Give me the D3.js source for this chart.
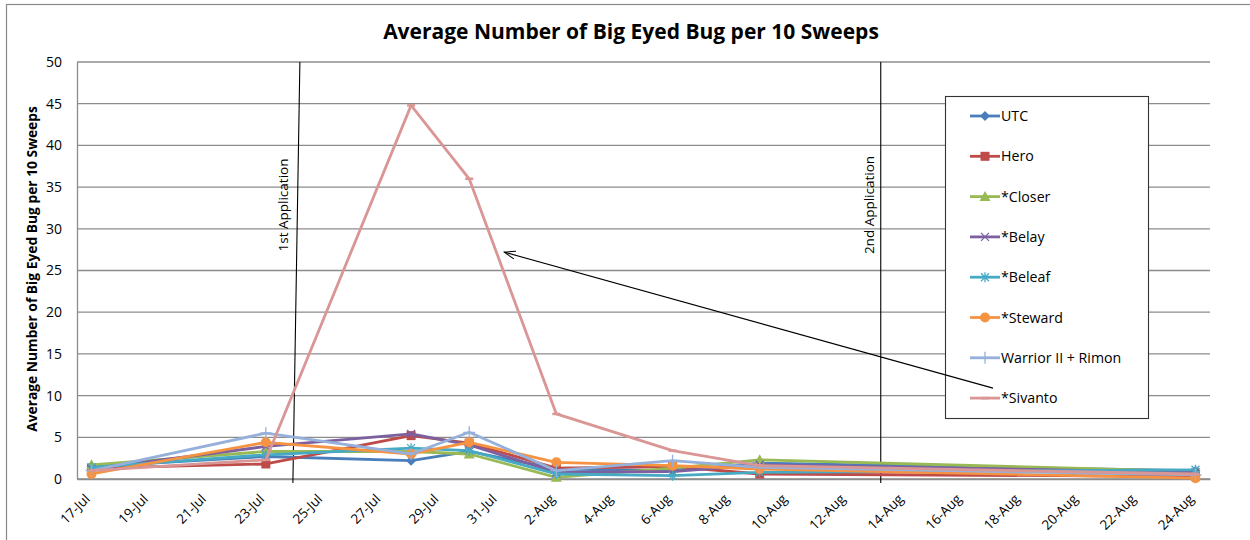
<!DOCTYPE html>
<head>
    <meta charset="UTF-8">
    <title>Big Eyed Bug</title>
    <style>
        body { margin: 0; background: #fff; }
        svg text { font-family: "Open Sans", "Noto Sans", sans-serif; fill: #000; }
    </style>
</head>
<body>
    <script src="https://d3js.org/d3.v7.min.js"></script>
    <script>
        // sample dates (2015 assumed, only day/month shown)
        var sampleDates = ["2015-07-17", "2015-07-23", "2015-07-28", "2015-07-30", "2015-08-02", "2015-08-06", "2015-08-09", "2015-08-24"]

        var seriesNames = ["UTC", "Hero", "*Closer", "*Belay", "*Beleaf", "*Steward", "Warrior II + Rimon", "*Sivanto"]
        var utc     = [1.5, 2.7, 2.2, 3.3, 1.2, 1.0, 1.9, 1.0]
        var hero    = [1.3, 1.8, 5.2, 4.3, 1.3, 1.5, 0.6, 0.3]
        var closer  = [1.7, 3.3, 3.3, 3.0, 0.2, 1.3, 2.3, 0.9]
        var belay   = [1.2, 3.9, 5.4, 4.1, 0.8, 0.9, 1.7, 0.8]
        var beleaf  = [1.4, 2.9, 3.7, 3.4, 0.6, 0.4, 0.8, 1.1]
        var steward = [0.6, 4.4, 3.0, 4.4, 2.0, 1.6, 1.2, 0.1]
        var warrior = [1.0, 5.5, 3.0, 5.6, 1.0, 2.2, 1.4, 0.5]
        var sivanto = [1.0, 2.3, 44.8, 36.0, 7.8, 3.4, 1.6, 0.6]
        var allValues = [utc, hero, closer, belay, beleaf, steward, warrior, sivanto]

        var xTickLabels = ["17-Jul", "19-Jul", "21-Jul", "23-Jul", "25-Jul", "27-Jul", "29-Jul", "31-Jul",
            "2-Aug", "4-Aug", "6-Aug", "8-Aug", "10-Aug", "12-Aug", "14-Aug", "16-Aug", "18-Aug", "20-Aug", "22-Aug", "24-Aug"]
        var yTicks = [0, 5, 10, 15, 20, 25, 30, 35, 40, 45, 50]

        // annotation lines
        var applications = [
            { label: "1st Application", date: "2015-07-24T00:00", lean: 5 },
            { label: "2nd Application", date: "2015-08-13T04:00", lean: 0 }
        ]
        var arrowTarget = { date: "2015-07-31T05:00", value: 27.2 }

        var colors = ["#4A7EBB", "#BE4B48", "#98B954", "#7D60A0", "#46AAC5", "#F59342", "#95B0DA", "#D99694"]
        var markers = ["diamond", "square", "triangle", "x", "star", "circle", "plus", "dash"]

        var width = 1250
        var height = 540
        var plot = { left: 77, right: 1210, top: 62, bottom: 479 }

        var parse = d3.utcParse("%Y-%m-%d")
        var parseT = d3.utcParse("%Y-%m-%dT%H:%M")
        var dates = sampleDates.map(parse)
        var tickDates = xTickLabels.map(function(s){ return d3.utcParse("%d-%b-%Y")(s + "-2015") })

        var half = 12 * 3600 * 1000
        var x = d3.scaleUtc()
            .domain([new Date(dates[0].getTime() - half), new Date(dates[dates.length - 1].getTime() + half)])
            .range([plot.left, plot.right])
        var y = d3.scaleLinear().domain([0, 50]).range([plot.bottom, plot.top])

        var svg = d3.select("body").append("svg")
            .attr("width", width)
            .attr("height", height)

        // chart area border
        svg.append("rect")
            .attr("x", 6.5).attr("y", 4.5)
            .attr("width", 1260).attr("height", 560)
            .attr("fill", "none").attr("stroke", "#888").attr("stroke-width", 1.2)

        // title
        svg.append("text")
            .attr("x", 631).attr("y", 39)
            .attr("text-anchor", "middle")
            .attr("font-size", "21px").attr("font-weight", "bold")
            .text("Average Number of Big Eyed Bug per 10 Sweeps")

        // gridlines
        svg.append("g").selectAll("line").data(yTicks).enter().append("line")
            .attr("x1", plot.left).attr("x2", plot.right)
            .attr("y1", function(d){ return y(d) }).attr("y2", function(d){ return y(d) })
            .attr("stroke", "#8c8c8c").attr("stroke-width", 1.3)

        // y axis
        var yAxis = svg.append("g")
            .attr("transform", "translate(" + plot.left + ",0)")
            .call(d3.axisLeft(y).tickValues(yTicks).tickSize(0).tickPadding(15))
        yAxis.select(".domain").attr("stroke", "#8c8c8c").attr("stroke-width", 1.3)
        yAxis.selectAll("text").attr("font-size", "14px").attr("font-family", "Open Sans").attr("fill", "#000")

        // y axis title
        svg.append("text")
            .attr("transform", "translate(37," + 269 + ") rotate(-90)")
            .attr("text-anchor", "middle")
            .attr("font-size", "13.8px").attr("font-weight", "bold")
            .text("Average Number of Big Eyed Bug per 10 Sweeps")

        // x axis
        var xAxis = svg.append("g")
            .attr("transform", "translate(0," + plot.bottom + ")")
            .call(d3.axisBottom(x).tickValues(tickDates).tickSize(0).tickFormat(function(d, i){ return xTickLabels[i] }))
        xAxis.select(".domain").attr("stroke", "#8c8c8c").attr("stroke-width", 1.3)
        xAxis.selectAll("text")
            .attr("font-size", "13.5px").attr("font-family", "Open Sans").attr("fill", "#000")
            .attr("text-anchor", "end")
            .attr("transform", "translate(-10,12) rotate(-45)")
            .attr("dy", "0.7em").attr("dx", "0")

        // application lines
        var apps = svg.append("g")
        applications.forEach(function(a){
            var ax = x(parseT(a.date))
            apps.append("line")
                .attr("x1", ax + a.lean).attr("y1", plot.top)
                .attr("x2", ax - a.lean * 0.4).attr("y2", plot.bottom + 4)
                .attr("stroke", "#000").attr("stroke-width", 1.1)
            apps.append("text")
                .attr("transform", "translate(" + (ax - 7) + "," + 205 + ") rotate(-90)")
                .attr("text-anchor", "middle")
                .attr("font-size", "13.5px")
                .text(a.label)
        })

        // series
        var line = d3.line()
            .x(function(d){ return x(d.date) })
            .y(function(d){ return y(d.value) })

        function drawMarker(g, type, color) {
            if (type == "diamond") {
                g.append("path").attr("d", "M0,-5L5,0L0,5L-5,0Z").attr("fill", color)
            } else if (type == "square") {
                g.append("rect").attr("x", -4.5).attr("y", -4.5).attr("width", 9).attr("height", 9).attr("fill", color)
            } else if (type == "triangle") {
                g.append("path").attr("d", "M0,-5.5L5.5,4.5L-5.5,4.5Z").attr("fill", color)
            } else if (type == "x") {
                g.append("path").attr("d", "M-4,-4L4,4M-4,4L4,-4").attr("stroke", color).attr("stroke-width", 1.3)
            } else if (type == "star") {
                g.append("path").attr("d", "M-4,-4L4,4M-4,4L4,-4M0,-5L0,5").attr("stroke", color).attr("stroke-width", 1.3)
            } else if (type == "circle") {
                g.append("circle").attr("r", 5).attr("fill", color)
            } else if (type == "plus") {
                g.append("path").attr("d", "M0,-6L0,6M-6,0L6,0").attr("stroke", color).attr("stroke-width", 1.3)
            } else if (type == "dash") {
                g.append("path").attr("d", "M-4,0L4,0").attr("stroke", color).attr("stroke-width", 2.5)
            }
        }

        var seriesG = svg.append("g")
        allValues.forEach(function(vals, s){
            var pts = vals.map(function(v, i){ return { date: dates[i], value: v } })
            var g = seriesG.append("g")
            g.append("path")
                .attr("d", line(pts))
                .attr("fill", "none")
                .attr("stroke", colors[s])
                .attr("stroke-width", 2.8)
                .attr("stroke-linejoin", "round")
            pts.forEach(function(p){
                var m = g.append("g").attr("transform", "translate(" + x(p.date) + "," + y(p.value) + ")")
                drawMarker(m, markers[s], colors[s])
            })
        })

        // legend
        var legend = { x: 945, y: 96, w: 203, h: 322, step: 40.3 }
        svg.append("rect")
            .attr("x", legend.x + 0.5).attr("y", legend.y + 0.5)
            .attr("width", legend.w).attr("height", legend.h)
            .attr("fill", "#fff").attr("stroke", "#333").attr("stroke-width", 1.1)
        seriesNames.forEach(function(name, s){
            var ly = legend.y + 20 + s * legend.step
            var g = svg.append("g")
            g.append("line")
                .attr("x1", legend.x + 25).attr("x2", legend.x + 55)
                .attr("y1", ly).attr("y2", ly)
                .attr("stroke", colors[s]).attr("stroke-width", 2.8)
            var m = g.append("g").attr("transform", "translate(" + (legend.x + 40) + "," + ly + ")")
            drawMarker(m, markers[s], colors[s])
            g.append("text")
                .attr("x", legend.x + 56).attr("y", ly + 5)
                .attr("font-size", "14.2px")
                .text(name)
        })

        // arrow from legend to Sivanto line
        svg.append("defs").append("marker")
            .attr("id", "arrow")
            .attr("viewBox", "-12 -6 13 12")
            .attr("refX", 0).attr("refY", 0)
            .attr("markerWidth", 13).attr("markerHeight", 12)
            .attr("markerUnits", "userSpaceOnUse")
            .attr("orient", "auto")
            .append("path")
            .attr("d", "M-11,-4L0,0L-11,4")
            .attr("fill", "none").attr("stroke", "#000").attr("stroke-width", 1)
        var lastY = legend.y + 20 + 7 * legend.step
        svg.append("line")
            .attr("x1", legend.x + 48).attr("y1", lastY - 10)
            .attr("x2", x(parseT(arrowTarget.date))).attr("y2", y(arrowTarget.value))
            .attr("stroke", "#000").attr("stroke-width", 1.1)
            .attr("marker-end", "url(#arrow)")
    </script>
</body>
</html>
